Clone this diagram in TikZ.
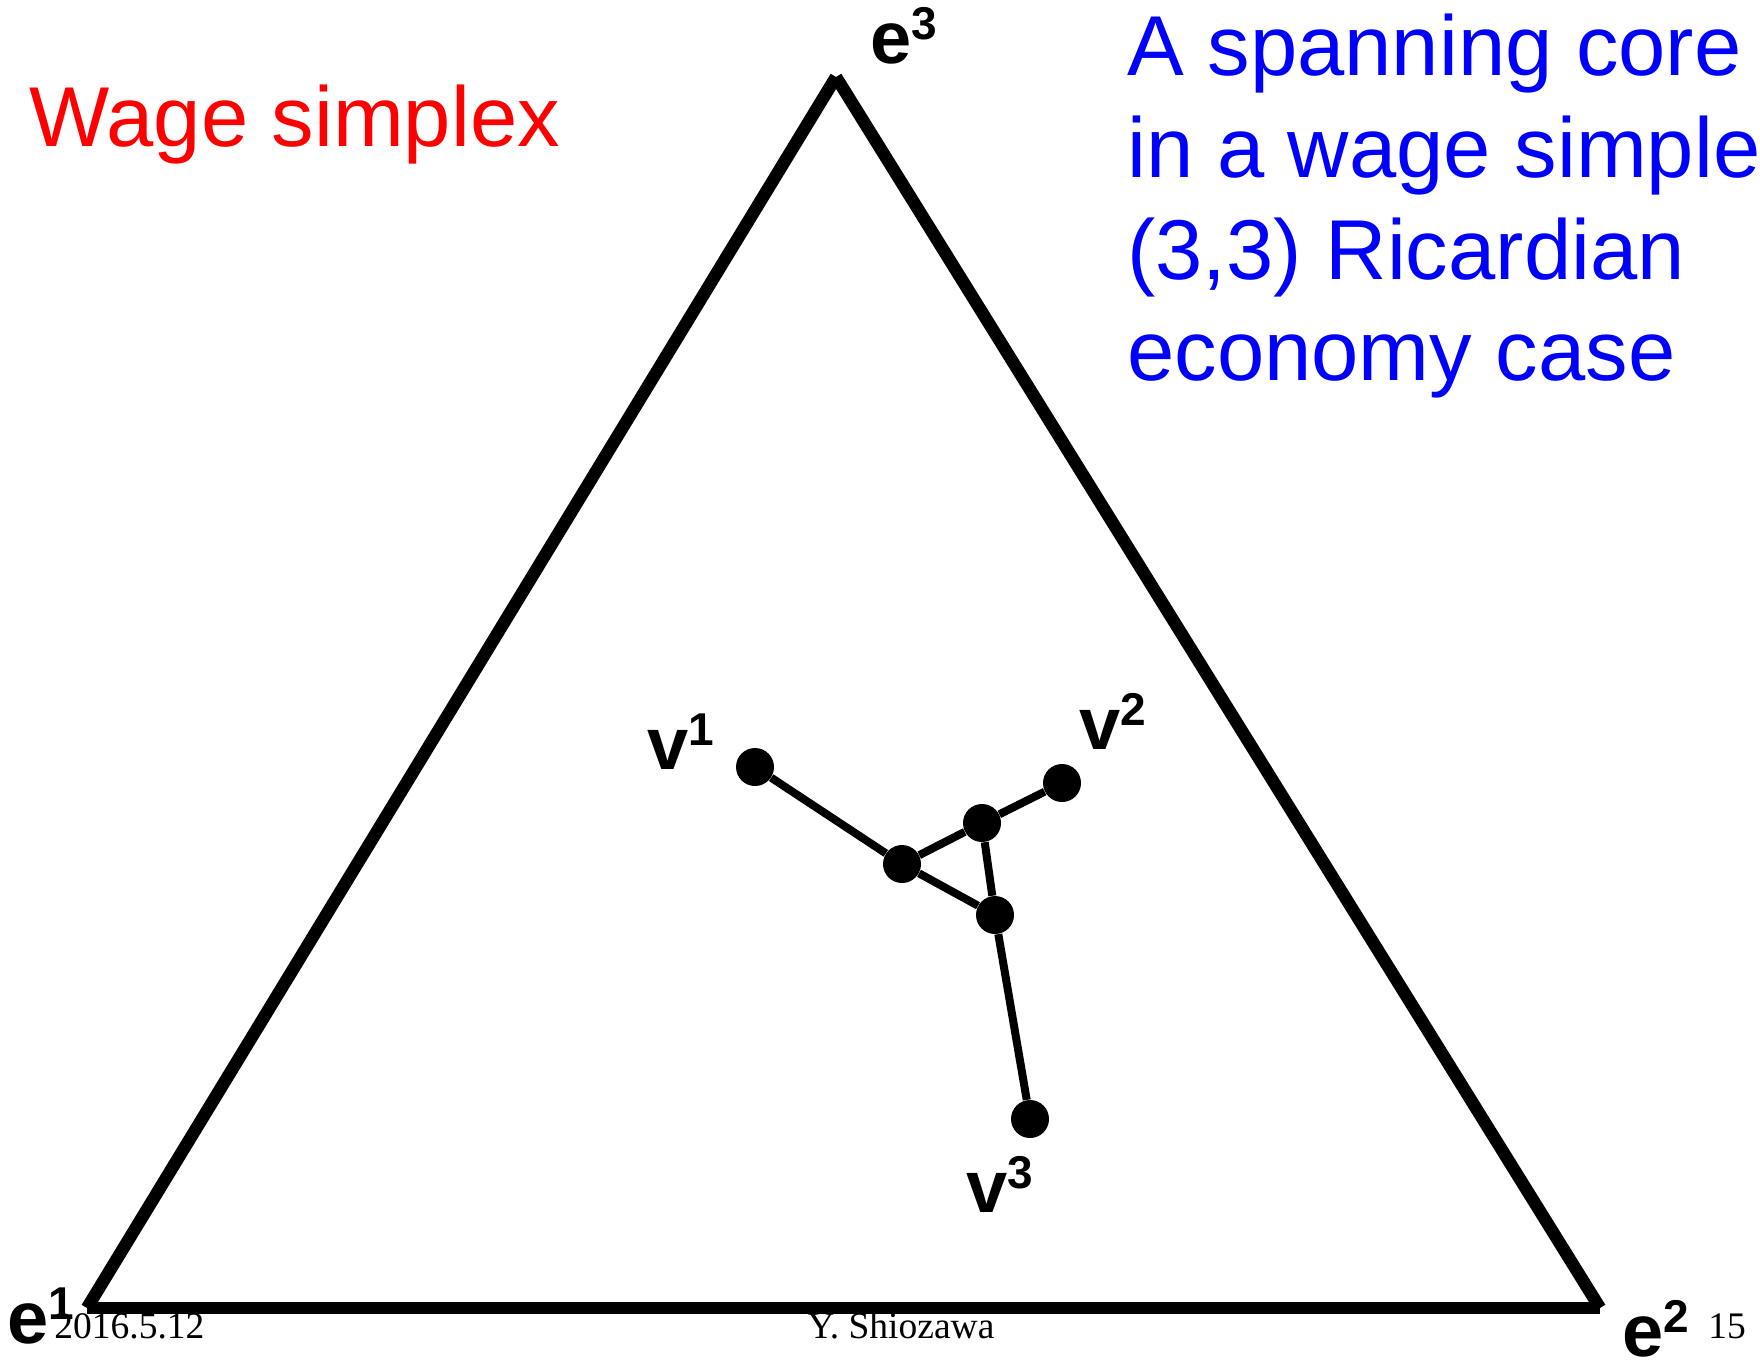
\documentclass[tikz,border=0pt]{standalone}
\usepackage{fontspec}
\setmainfont{Liberation Sans}
\newfontfamily\footfont{Liberation Serif}
\newcommand{\mysup}[1]{\raisebox{12pt}{\fontsize{23}{23}\selectfont #1}}
\begin{document}
\begin{tikzpicture}[x=0.5pt,y=-0.5pt,
  edgeline/.style={line width=6.25pt,line cap=butt},
  link/.style={line width=4pt},
  dot/.style={circle,fill=black,inner sep=0pt,minimum size=19pt},
  vlabel/.style={inner sep=0pt,anchor=base west,font=\fontsize{37}{37}\selectfont\bfseries},
  bigtext/.style={inner sep=0pt,anchor=base west,font=\fontsize{42.5}{50}\selectfont},
  foot/.style={inner sep=0pt,anchor=base west,font=\footfont\fontsize{18.75}{20}\selectfont}]
\useasboundingbox (0,0) rectangle (1760,1361);
% triangle vertices
\coordinate (e1) at (87,1308);
\coordinate (e2) at (1600,1308);
\coordinate (e3) at (836,77);
\draw[edgeline] (e1) -- (e3);
\draw[edgeline] (e3) -- (e2);
\draw[edgeline] (e1) -- (e2);
% core graph
\node[dot] (v1) at (755,767) {};
\node[dot] (a) at (902,864) {};
\node[dot] (b) at (982,823) {};
\node[dot] (c) at (995,915) {};
\node[dot] (v2) at (1062,783) {};
\node[dot] (v3) at (1030,1119) {};
\draw[link] (v1) -- (a);
\draw[link] (a) -- (b);
\draw[link] (a) -- (c);
\draw[link] (b) -- (c);
\draw[link] (b) -- (v2);
\draw[link] (c) -- (v3);
% labels
\node[vlabel] (le1) at (7,1343) {e\mysup{1}};
\node[vlabel] (le2) at (1622,1356) {e\mysup{2}};
\node[vlabel] (le3) at (870,63) {e\mysup{3}};
\node[vlabel] (lv1) at (647,769) {v\mysup{1}};
\node[vlabel] (lv2) at (1079,749) {v\mysup{2}};
\node[vlabel] (lv3) at (966,1212) {v\mysup{3}};
% titles
\node[bigtext,text=red] (title) at (29,146) {Wage simplex};
\node[bigtext,text=blue] (t1) at (1127,75) {A spanning core};
\node[bigtext,text=blue] (t2) at (1127,177) {in a wage simple};
\node[bigtext,text=blue] (t3) at (1127,279) {(3,3) Ricardian};
\node[bigtext,text=blue] (t4) at (1127,380) {economy case};
% footer
\node[foot] (date) at (54,1338) {2016.5.12};
\node[foot,anchor=base] (author) at (901,1338) {Y. Shiozawa};
\node[foot] (page) at (1708,1338) {15};
\end{tikzpicture}
\end{document}
